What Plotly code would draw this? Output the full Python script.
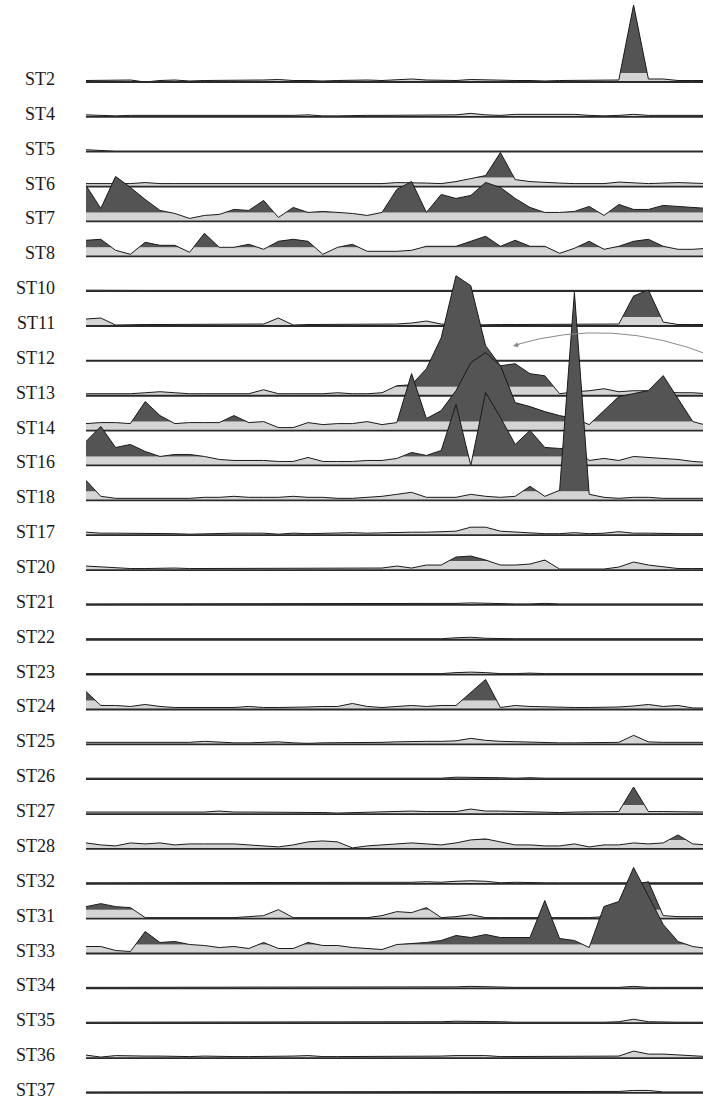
import plotly.graph_objects as go

# ---------------- data ----------------
LABELS = ["ST2", "ST4", "ST5", "ST6", "ST7", "ST8", "ST10", "ST11", "ST12", "ST13",
          "ST14", "ST16", "ST18", "ST17", "ST20", "ST21", "ST22", "ST23", "ST24", "ST25",
          "ST26", "ST27", "ST28", "ST32", "ST31", "ST33", "ST34", "ST35", "ST36", "ST37"]

ST2 = [1.5,1.5,1.5,2,0,1.5,2,1,1.5,1.5, 1.5,1.5,2,2.5,1.5,1.5,1,1.5,2,2, 1.5,2.5,3,2,2,1.5,2.5,2,1.5,1.5, 1.5,1,1.5,1.5,1.5,1.5,2,77,3,3, 1.5,1.5,1.5]
ST4 = [2,1.5,1,1.5,1.5,1.5,1.5,1,1.5,1.5, 1.5,1.5,1.5,1.5,1.5,2,1,1,1.5,1.5, 1.5,1.5,2,1.5,1.5,2,3.5,2,1.5,2.5, 2.5,2.5,2.5,2.5,1.5,1,1.5,2.5,1.5,1.5, 1.5,1.5,1.5]
ST5 = [2,1,0.5,0.5,0.5,0.8,0.8,0.8,0.8,0.8, 0.8,0.8,0.8,0.8,0.8,0.8,0.8,1,0.8,0.8, 0.8,0.8,0.8,0.8,1,1.2,1,1,1,1.2, 1.2,1,1,1,1.2,1,1,1.2,1,0.8, 0.8,0.5,0.5]
ST6 = [3,3,3,3,4,3,3,3,3,3, 3,3,3,3,3,3,3,3,3,3, 3,4,4,3.5,3,5,8,11,34,7, 5,4,3.5,3,3,3,4.5,3.5,3,3.5, 4,3.5,3]
ST7 = [36,13,45,34,22,11,8,3,6,7, 12,11,21,4,14,9,10,9,8,6, 9,32,40,9,27,23,26,39,34,23, 14,9,9,10,15,6,17,12,12,16, 15,14,13]
ST8 = [16,17,6,2,14,11,11,4,23,9, 9,12,7,15,17,15,2,9,12,5, 5,5,6,10,10,10,15,20,10,16, 10,10,3,8,15,7,10,15,17,10, 7,7,8]
ST10 = [1,0.8,0.8,0.8,0.8,0.8,0.8,0.8,0.8,0.8, 0.8,0.8,0.8,0.8,0.8,0.8,0.8,0.8,1,0.8, 0.8,0.8,0.8,0.8,0.8,0.8,0.8,0.8,0.8,0.8, 0.8,0.8,0.8,0.8,0.8,0.8,0.8,1,0.8,0.8, 0.8,0.8,0.8]
ST11 = [7,8,1,1.5,1.5,1.5,1.5,1.5,1.5,1.5, 1.5,2,2,8,1,1.5,1.5,1.5,1.5,1.5, 1.5,2,3,5,2,1,1,1.5,1.5,1.5, 1.5,1.5,1.5,1.5,1.5,1.5,2,30,36,4, 1.5,1.5,1.5]
ST12 = [0.6,0.6,0.6,0.6,0.6,0.6,0.6,0.6,0.6,0.6, 0.6,0.6,0.6,0.6,0.6,0.6,0.6,0.6,0.6,0.6, 0.6,0.6,0.6,0.6,0.6,0.6,0.6,0.6,0.6,0.6, 0.6,0.6,0.6,0.6,0.6,0.6,0.6,0.6,0.6,0.6, 0.6,0.6,0.6]
ST13 = [2,2,2,2,3,4,3,2,2,2, 2,2,6,2,2,2,2,3,2,2, 3,10,11,27,58,120,110,50,30,32, 22,20,2,4,5,7,4,5,5,4, 3,3,2]
ST14 = [7,8,8,7,29,15,7,8,8,8, 15,8,9,3,3,8,6,7,7,9, 6,8,57,12,20,40,68,78,65,28, 24,19,15,12,6,20,34,37,40,55, 32,9,5]
ST16 = [24,39,18,21,14,9,11,11,9,6, 5,5,5,4,4,8,4,4,4,5, 5,7,13,10,15,61,0,73,48,21, 35,18,17,17,5,7,5,9,8,7, 6,4,3]
ST18 = [20,4,2,2,2,2,2,2,3,3, 4,3,3,3,4,3,3,2,2,3, 4,6,8,3,3,3,6,4,3,4, 14,4,10,208,6,3,2,3,3,2, 2,2,2]
ST17 = [3,2,2,2,1.5,1.5,1.5,1,1.5,1.5, 2,2,2,1,2,1.5,2,2,2.5,2, 2.5,2.5,3,3,3.5,4,8,8,4,3, 2,1.5,1.5,2.5,1.5,2,3.5,2,2,1.5, 1.5,1.5,1.5]
ST20 = [4,3,2,1.5,1.5,2,2,1.5,1.5,1.5, 1.5,1.5,1.5,1.5,1.5,1.5,1.5,1.5,1.5,1.5, 2,4,2,5,5,13,14,10,5,5, 6,10,1,1,1,1,3,8,5,3, 1.5,1.5,1.5]
ST21 = [1,1,1,1,1,1,1,1,1,1, 1,1,1,1,1,1,1,1,1,1, 1,1,1,1,1,1.5,2,1.5,1,1, 1,1.5,1,1,1,1,1,1,1,1, 1,1,1]
ST22 = [1,1,1,1,1,1,1,1,1,1, 1,1,1,1,1,1,1,1,1,1, 1,1,1,1,1,2,2.5,1.5,1,1, 1,1,1,1,1,1,1,1.5,1,1, 1,1,1]
ST23 = [1,1,1,1,1,1,1,1,1,1, 1,1,1,1,1,1,1,1,1,1, 1,1,1,1,1,2,2.5,2,1,1, 1.5,1,1,1,1,1,1,1.5,1,1, 1,1,1]
ST24 = [18,4,4,3,5,3,2,2,2,2, 2,3,2,2,2,2.5,3,3,6,3, 2,3,4,3,4,4,17,30,2,4, 3,2.5,2,2,2,2,2.5,3.5,5,3, 4,1.5,1.5]
ST25 = [2,2,1.5,2,2,2,2,2,3,2, 1.5,1.5,2,2.5,1.5,1,1.5,1.5,2,2, 2,2.5,3,3,3,3.5,6,4,3,2.5, 2,1.5,1.5,1.5,1.5,1.5,2,9,2.5,2, 2,2,2]
ST26 = [1,1,1,1,1,1,1,1,1,1, 1,1,1,1,1,1,1,1,1,1, 1,1,1,1,1,2,2,2,1.5,1, 1.5,1,1,1,1,1,1,1,1,1, 1,1,1]
ST27 = [2,2,2,2,2,2,1.5,1.5,2,3, 2,2,2,2,1.5,1.5,1.5,1,1.5,1.5, 2,2.5,3,2.5,2.5,2.5,5,3,3,2.5, 2,1.5,1.5,2,2,2.5,2.5,27,2.5,2.5, 2.5,2,2]
ST28 = [6,4,3,6,5,6,4,5,5,5, 5,4,3,2,4,7,8,7,1,3, 4,5,6,5,4,6,9,10,7,4, 4,3,3,5,2,4,4,6,5,6, 14,5,4]
ST32 = [1,1,1,1,1,1,1,1,1,1, 1,1,1,1,1,1,1,1,1,1, 1,1,1.5,2,1.5,2.5,3,2.5,1,1.5, 1,1,1,1,1,1,1,1,1,1, 1,1,1]
ST31 = [12,15,12,11,1,1,1,1,1,1, 1,2,3,9,1,1,1,1,1,1, 3,7,6,11,1,2,4,1,1,1, 1,1,1,1,1,2,10,33,37,3, 2,2,2]
ST33 = [7,7,3,2,22,11,12,9,8,6, 7,5,11,5,5,11,8,8,6,5, 4,9,10,11,13,18,16,19,16,16, 16,53,15,13,6,47,52,86,57,29, 12,7,5]
ST34 = [1,1,1,1,1,1,1,1,1,1, 1,1,1,1,1,1,1,1,1,1, 1,1,1,1,1,1.5,2,1.5,1,1, 1,1,1,1,1,1,1,2,1,1, 1,1,1]
ST35 = [1,1,1,1,1,1,1,1,1,1, 1,1,1,1.5,1,1,1,1,1,1, 1,1,1,1,1.5,2,2,2,1.5,1, 1,1,0.5,1,1,1,1.5,4,1.5,1, 1,1,1]
ST36 = [3,1,2.5,2,2,2,1.5,1.5,2,1.5, 1.5,1.5,1.5,1.5,2,2.5,1.5,1.5,1.5,2, 1.5,1.5,1.5,1.5,2,2.5,2.5,2.5,1.5,1.5, 2,1.5,1.5,1.5,1.5,1.5,2,7,4,4, 3,2,1.5]
ST37 = [1,1,1,1,1,1,1,1,1,1, 1,1,1,1,1,1,1,1,1,1, 1,1,1,1,1,1,1.5,1,1,1, 1,1,1,1,1,1,1.5,2.5,2.5,1, 1,1,1]

SERIES = [ST2, ST4, ST5, ST6, ST7, ST8, ST10, ST11, ST12, ST13,
          ST14, ST16, ST18, ST17, ST20, ST21, ST22, ST23, ST24, ST25,
          ST26, ST27, ST28, ST32, ST31, ST33, ST34, ST35, ST36, ST37]

THRESHOLD = 9          # band boundary (light below, dark above)
ROW_GAP = 34.86        # vertical offset between rows (value units)

LIGHT = "#d4d4d4"
DARK = "#545454"
LINE = "#1a1a1a"


def split_at(xs, hs, t):
    """insert crossing points where the series crosses threshold t"""
    ox, oh = [xs[0]], [hs[0]]
    for i in range(1, len(xs)):
        h0, h1 = hs[i - 1], hs[i]
        if (h0 - t) * (h1 - t) < 0:
            f = (t - h0) / (h1 - h0)
            ox.append(xs[i - 1] + f * (xs[i] - xs[i - 1]))
            oh.append(t)
        ox.append(xs[i])
        oh.append(h1)
    return ox, oh


fig = go.Figure()

for k, (lab, vals) in enumerate(zip(LABELS, SERIES)):
    base = -k * ROW_GAP
    xs = list(range(len(vals)))
    ex, eh = split_at(xs, vals, THRESHOLD)
    low = [min(h, THRESHOLD) for h in eh]
    high = [max(h, THRESHOLD) for h in eh]
    # light band
    fig.add_trace(go.Scatter(
        x=ex + ex[::-1],
        y=[base + v for v in low] + [base] * len(ex),
        fill="toself", fillcolor=LIGHT, mode="lines",
        line=dict(width=0, color=LIGHT), hoverinfo="skip", showlegend=False))
    # dark band
    if max(vals) > THRESHOLD:
        fig.add_trace(go.Scatter(
            x=ex + ex[::-1],
            y=[base + v for v in high] + [base + THRESHOLD] * len(ex),
            fill="toself", fillcolor=DARK, mode="lines",
            line=dict(width=0, color=DARK), hoverinfo="skip", showlegend=False))
    # outline
    fig.add_trace(go.Scatter(
        x=xs, y=[base + v for v in vals], mode="lines",
        line=dict(width=1, color=LINE), hoverinfo="skip", showlegend=False))
    # baseline
    fig.add_trace(go.Scatter(
        x=[xs[0], xs[-1]], y=[base, base], mode="lines",
        line=dict(width=1.8, color="#2a2a2a"), hoverinfo="skip", showlegend=False))
    fig.add_annotation(
        x=-0.047, xref="paper", y=base + 3, yref="y",
        text=lab, showarrow=False, xanchor="right", yanchor="middle",
        font=dict(family="Liberation Serif, serif", size=18, color="#1a1a1a"))

# curved arrow annotation (pixel positions converted to axis units)
X0_PX, PX_PER_X = 86, 14.8
Y0_PX = 82


def px2x(px):
    return (px - X0_PX) / PX_PER_X


def py2y(py):
    return Y0_PX - py


arc = "M {:.3f},{:.3f} Q {:.3f},{:.3f} {:.3f},{:.3f}".format(
    px2x(712), py2y(356), px2x(612), py2y(316), px2x(515), py2y(345))
fig.add_shape(type="path", path=arc, xref="x", yref="y",
              line=dict(color="#8a8a8a", width=1))
fig.add_annotation(x=px2x(513), y=py2y(346), xref="x", yref="y",
                   ax=8, ay=-2, text="", showarrow=True, arrowhead=2,
                   arrowsize=1, arrowwidth=1, arrowcolor="#8a8a8a", standoff=0)

fig.update_xaxes(range=[0, (703 - X0_PX) / PX_PER_X], visible=False, fixedrange=True)
fig.update_yaxes(range=[-(1099 - Y0_PX), Y0_PX], visible=False, fixedrange=True)
fig.update_layout(width=703, height=1099,
                  margin=dict(l=86, r=0, t=0, b=0),
                  plot_bgcolor="white", paper_bgcolor="white",
                  showlegend=False)

fig.write_html("out.html", config={"displayModeBar": False},
               post_script="document.body.style.margin='0';"
                           "document.body.style.overflow='hidden';")
